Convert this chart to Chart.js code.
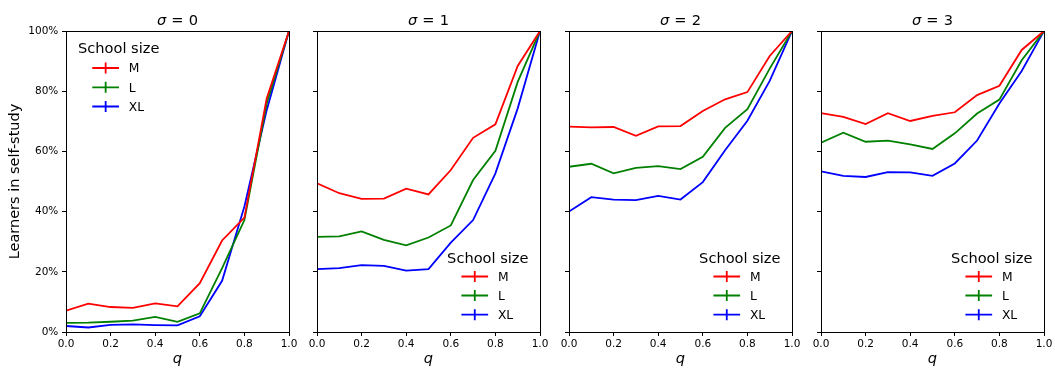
<!DOCTYPE html>
<html><head><meta charset="utf-8">
<script src="https://cdn.jsdelivr.net/npm/chart.js@4.4.1/dist/chart.umd.min.js"></script>
<style>
html,body{margin:0;padding:0;background:#fff;}
body{width:1055px;height:371px;position:relative;overflow:hidden;}
canvas{position:absolute;top:0;}
</style></head><body>
<canvas id="c0" width="303" height="371" style="left:0px;width:303px;height:371px"></canvas>
<canvas id="c1" width="252" height="371" style="left:303px;width:252px;height:371px"></canvas>
<canvas id="c2" width="252" height="371" style="left:555px;width:252px;height:371px"></canvas>
<canvas id="c3" width="248" height="371" style="left:807px;width:248px;height:371px"></canvas>
<script>
// ---- data ----
const qValues = [0.0, 0.1, 0.2, 0.3, 0.4, 0.5, 0.6, 0.7, 0.8, 0.9, 1.0];
const sigmaLabels = ['0', '1', '2', '3'];
const sizeLabels = ['M', 'L', 'XL'];
const sizeColors = ['#ff0000', '#008000', '#0000ff'];
const yTickValues = [0, 20, 40, 60, 80, 100];
const xTickValues = [0.0, 0.2, 0.4, 0.6, 0.8, 1.0];

// sigma = 0
const m_sigma0  = [7.1, 9.4, 8.3, 8.0, 9.5, 8.5, 16.2, 30.4, 38.0, 77.6, 100];
const l_sigma0  = [3.0, 3.1, 3.4, 3.8, 5.0, 3.4, 6.2, 21.2, 37.2, 75.9, 100];
const xl_sigma0 = [2.0, 1.5, 2.4, 2.5, 2.3, 2.2, 5.2, 17.0, 41.7, 73.7, 100];
// sigma = 1
const m_sigma1  = [49.4, 46.1, 44.2, 44.3, 47.6, 45.7, 53.8, 64.5, 69.0, 88.4, 100];
const l_sigma1  = [31.6, 31.8, 33.4, 30.6, 28.8, 31.4, 35.4, 50.5, 60.2, 83.1, 100];
const xl_sigma1 = [20.9, 21.2, 22.2, 22.0, 20.4, 20.9, 29.7, 37.2, 52.7, 74.3, 100];
// sigma = 2
const m_sigma2  = [68.2, 68.0, 68.1, 65.2, 68.3, 68.4, 73.4, 77.3, 79.7, 91.7, 100];
const l_sigma2  = [54.9, 55.9, 52.7, 54.5, 55.1, 54.1, 58.2, 67.8, 74.0, 87.5, 100];
const xl_sigma2 = [40.0, 44.8, 44.0, 43.8, 45.2, 44.0, 49.8, 60.4, 70.2, 83.4, 100];
// sigma = 3
const m_sigma3  = [72.7, 71.5, 69.1, 72.7, 70.1, 71.8, 73.0, 78.7, 81.8, 93.7, 100];
const l_sigma3  = [62.9, 66.2, 63.2, 63.6, 62.3, 60.8, 66.0, 72.6, 77.2, 90.3, 100];
const xl_sigma3 = [53.4, 51.9, 51.5, 53.1, 53.0, 51.9, 56.0, 63.6, 75.9, 86.7, 100];

const panelSeries = [
  [m_sigma0, l_sigma0, xl_sigma0],
  [m_sigma1, l_sigma1, xl_sigma1],
  [m_sigma2, l_sigma2, xl_sigma2],
  [m_sigma3, l_sigma3, xl_sigma3]
];

// ---- layout (positions/styles) ----
const FONT = "'DejaVu Sans', 'Liberation Sans', sans-serif";
const panelLayout = [
  { yWidth: 66, right: 14, legend: 'ul', showY: true },
  { yWidth: 14, right: 15, legend: 'lr', showY: false },
  { yWidth: 14, right: 15, legend: 'lr', showY: false },
  { yWidth: 14, right: 11, legend: 'lr', showY: false }
];

const framePlugin = {
  id: 'frame',
  afterDatasetsDraw(chart) {
    const { ctx, chartArea: a } = chart;
    ctx.save();
    ctx.strokeStyle = '#000';
    ctx.lineWidth = 1;
    ctx.strokeRect(Math.round(a.left) + 0.5, Math.round(a.top) + 0.5,
                   Math.round(a.right) - Math.round(a.left), Math.round(a.bottom) - Math.round(a.top));
    ctx.restore();
  }
};

const titlePlugin = {
  id: 'sigmaTitle',
  afterDraw(chart, args, opts) {
    const { ctx, chartArea: a } = chart;
    ctx.save();
    ctx.fillStyle = '#000';
    ctx.textBaseline = 'alphabetic';
    ctx.textAlign = 'left';
    const size = 14.6;
    const gap = 5.2;
    const fItal = 'italic ' + size + 'px ' + FONT;
    const fNorm = size + 'px ' + FONT;
    ctx.font = fItal; const w1 = ctx.measureText('σ').width;
    ctx.font = fNorm; const w2 = ctx.measureText('=').width;
    const w3 = ctx.measureText(opts.value).width;
    const total = w1 + gap + w2 + gap + w3;
    let x = (a.left + a.right) / 2 - total / 2;
    const y = 25;
    ctx.font = fItal; ctx.fillText('σ', x, y); x += w1 + gap;
    ctx.font = fNorm; ctx.fillText('=', x, y); x += w2 + gap;
    ctx.fillText(opts.value, x, y);
    ctx.restore();
  }
};

const legendPlugin = {
  id: 'schoolLegend',
  afterDraw(chart, args, opts) {
    const { ctx, chartArea: a } = chart;
    ctx.save();
    ctx.fillStyle = '#000';
    ctx.textBaseline = 'alphabetic';
    ctx.textAlign = 'left';
    const titleSize = 14.6, itemSize = 12.3;
    ctx.font = titleSize + 'px ' + FONT;
    const tw = ctx.measureText('School size').width;
    let tx, ty, rows;
    if (opts.pos === 'ul') {
      tx = a.left + 12;
      ty = a.top + 17;
      rows = [a.top + 37, a.top + 56.3, a.top + 75.5];
    } else {
      tx = a.right - 11.5 - tw;
      ty = a.bottom - 74.7;
      rows = [a.bottom - 55.5, a.bottom - 36.5, a.bottom - 17.3];
    }
    ctx.fillText('School size', tx, ty + 0.365 * titleSize);
    ctx.font = itemSize + 'px ' + FONT;
    chart.data.datasets.forEach((ds, i) => {
      const y = rows[i];
      ctx.strokeStyle = ds.borderColor;
      ctx.lineWidth = 1.8;
      ctx.beginPath();
      ctx.moveTo(tx + 14.3, y); ctx.lineTo(tx + 41, y);
      const mx = (tx + 14.3 + tx + 41) / 2;
      ctx.moveTo(mx, y - 5.5); ctx.lineTo(mx, y + 5.5);
      ctx.stroke();
      ctx.fillStyle = '#000';
      ctx.fillText(ds.label, tx + 50.8, y + 0.365 * itemSize);
    });
    ctx.restore();
  }
};

panelSeries.forEach((series, p) => {
  const L = panelLayout[p];
  const datasets = series.map((vals, i) => ({
    label: sizeLabels[i],
    data: qValues.map((q, k) => ({ x: q, y: vals[k] })),
    borderColor: sizeColors[i],
    backgroundColor: sizeColors[i],
    borderWidth: 1.8,
    pointRadius: 0,
    pointHoverRadius: 0,
    tension: 0,
    fill: false
  }));
  new Chart(document.getElementById('c' + p), {
    type: 'line',
    data: { datasets },
    plugins: [framePlugin, titlePlugin, legendPlugin],
    options: {
      responsive: false,
      animation: false,
      events: [],
      layout: { padding: { top: 31, right: L.right, left: 0, bottom: 0 } },
      plugins: {
        legend: { display: false },
        tooltip: { enabled: false },
        sigmaTitle: { value: sigmaLabels[p] },
        schoolLegend: { pos: L.legend }
      },
      scales: {
        x: {
          type: 'linear',
          min: 0, max: 1,
          afterBuildTicks(scale) { scale.ticks = xTickValues.map(v => ({ value: v })); },
          afterFit(scale) { scale.height = 39; scale.paddingLeft = 0; scale.paddingRight = 0; },
          ticks: {
            callback: v => Number(v).toFixed(1),
            font: { family: FONT, size: 10.5 },
            color: '#000',
            padding: 2,
            maxRotation: 0,
            autoSkip: false
          },
          grid: { display: true, drawOnChartArea: false, drawTicks: true, tickLength: 4, color: '#000', lineWidth: 1 },
          border: { display: false },
          title: {
            display: true, text: 'q',
            font: { family: FONT, size: 14.6, style: 'italic' },
            color: '#000',
            padding: { top: 0, bottom: 3.2 }
          }
        },
        y: {
          type: 'linear',
          min: 0, max: 100,
          afterBuildTicks(scale) { scale.ticks = yTickValues.map(v => ({ value: v })); },
          afterFit(scale) { scale.width = L.yWidth; scale.paddingTop = 0; scale.paddingBottom = 0; },
          ticks: {
            display: L.showY,
            callback: v => v + '%',
            font: { family: FONT, size: 10.5 },
            color: '#000',
            padding: 3.7,
            autoSkip: false
          },
          grid: { display: true, drawOnChartArea: false, drawTicks: true, tickLength: 4, color: '#000', lineWidth: 1 },
          border: { display: false },
          title: {
            display: L.showY, text: 'Learners in self-study',
            font: { family: FONT, size: 14.5 },
            color: '#000',
            padding: { top: 6.9, bottom: 0 }
          }
        }
      }
    }
  });
});
</script>
</body></html>
